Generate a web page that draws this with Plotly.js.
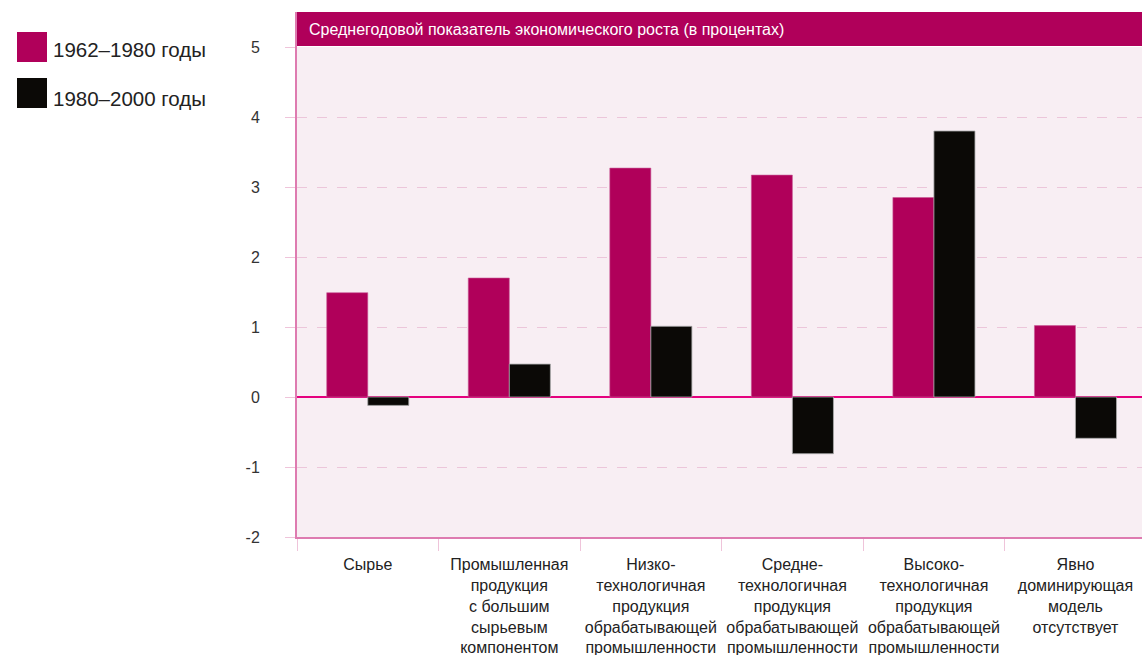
<!DOCTYPE html>
<html>
<head>
<meta charset="utf-8">
<script src="https://cdn.plot.ly/plotly-3.0.1.min.js"></script>
<style>html,body{margin:0;padding:0;background:#fff;}#chart{width:1142px;height:655px;}</style>
</head>
<body>
<div id="chart"></div>
<script>
const categories = [
  'Сырье',
  'Промышленная<br>продукция<br>с большим<br>сырьевым<br>компонентом',
  'Низко-<br>технологичная<br>продукция<br>обрабатывающей<br>промышленности',
  'Средне-<br>технологичная<br>продукция<br>обрабатывающей<br>промышленности',
  'Высоко-<br>технологичная<br>продукция<br>обрабатывающей<br>промышленности',
  'Явно<br>доминирующая<br>модель<br>отсутствует'
];
const series1Name = '1962–1980 годы';
const series1Values = [1.49, 1.70, 3.27, 3.17, 2.85, 1.02];
const series2Name = '1980–2000 годы';
const series2Values = [-0.12, 0.47, 1.01, -0.81, 3.80, -0.59];
const yTickValues = [-2, -1, 0, 1, 2, 3, 4, 5];
const chartTitle = 'Среднегодовой показатель экономического роста (в процентах)';

const colMagenta = '#b0005a';
const colBlack = '#0b0906';
const font = 'Liberation Sans, Arial, sans-serif';

const traces = [
  {type: 'bar', name: series1Name, x: categories, y: series1Values,
   marker: {color: colMagenta, line: {color: 'rgba(200,90,150,0.6)', width: 1}}, showlegend: false, hoverinfo: 'y'},
  {type: 'bar', name: series2Name, x: categories, y: series2Values,
   marker: {color: colBlack, line: {color: 'rgba(170,170,170,0.8)', width: 1}}, showlegend: false, hoverinfo: 'y'}
];

const H = 490; // plot height px
const W = 845;
const layout = {
  width: 1142, height: 655,
  margin: {l: 297, r: 0, t: 47, b: 118, pad: 0},
  paper_bgcolor: '#ffffff',
  plot_bgcolor: '#f8eef3',
  barmode: 'group',
  bargap: 0.42,
  bargroupgap: 0,
  font: {family: font, color: '#222'},
  xaxis: {
    type: 'category',
    range: [-0.5, 5.47],
    showgrid: false,
    showline: true, linecolor: '#de7bb0', linewidth: 2,
    ticks: 'outside', tickson: 'boundaries', ticklen: 12, tickcolor: '#efc4da', tickwidth: 1,
    ticklabelstandoff: 12,
    tickfont: {family: font, size: 16, color: '#222'},
    zeroline: false, fixedrange: true
  },
  yaxis: {
    range: [-2, 5],
    tickvals: yTickValues,
    ticktext: yTickValues.map(String),
    showgrid: true, gridcolor: '#ecc6da', gridwidth: 1, griddash: '10px,10px',
    showline: true, linecolor: '#de7bb0', linewidth: 2,
    ticks: 'outside', ticklen: 10, tickcolor: '#efc4da', tickwidth: 1,
    ticklabelstandoff: 22,
    tickfont: {family: font, size: 16, color: '#333'},
    zeroline: true, zerolinecolor: '#e5007e', zerolinewidth: 2,
    fixedrange: true
  },
  shapes: [
    {type: 'rect', xref: 'paper', yref: 'paper', x0: 0, x1: 1.01, y0: 1 + 1/H, y1: 1 + 35/H,
     fillcolor: colMagenta, line: {width: 0}, layer: 'above'},
    {type: 'line', xref: 'paper', yref: 'paper', x0: -1/W, x1: -1/W, y0: 1, y1: 1 + 35/H,
     line: {color: '#de7bb0', width: 2}},
    {type: 'rect', xref: 'paper', yref: 'paper', x0: -280/W, x1: -250/W, y0: 1 + 15/H, y1: 1 - 15/H,
     fillcolor: colMagenta, line: {width: 0}},
    {type: 'rect', xref: 'paper', yref: 'paper', x0: -280/W, x1: -250/W, y0: 1 - 31/H, y1: 1 - 61/H,
     fillcolor: colBlack, line: {width: 0}}
  ],
  annotations: [
    {xref: 'paper', yref: 'paper', x: 10/W, y: 1 + 18/H, xanchor: 'left', yanchor: 'middle',
     text: chartTitle, showarrow: false, font: {family: font, size: 16, color: '#ffffff'}},
    {xref: 'paper', yref: 'paper', x: -246/W, y: 1 - 3/H, xanchor: 'left', yanchor: 'middle',
     text: series1Name, showarrow: false, font: {family: font, size: 20.5, color: '#222'}},
    {xref: 'paper', yref: 'paper', x: -246/W, y: 1 - 52/H, xanchor: 'left', yanchor: 'middle',
     text: series2Name, showarrow: false, font: {family: font, size: 20.5, color: '#222'}}
  ]
};

Plotly.newPlot('chart', traces, layout, {displayModeBar: false, staticPlot: true});
</script>
</body>
</html>
